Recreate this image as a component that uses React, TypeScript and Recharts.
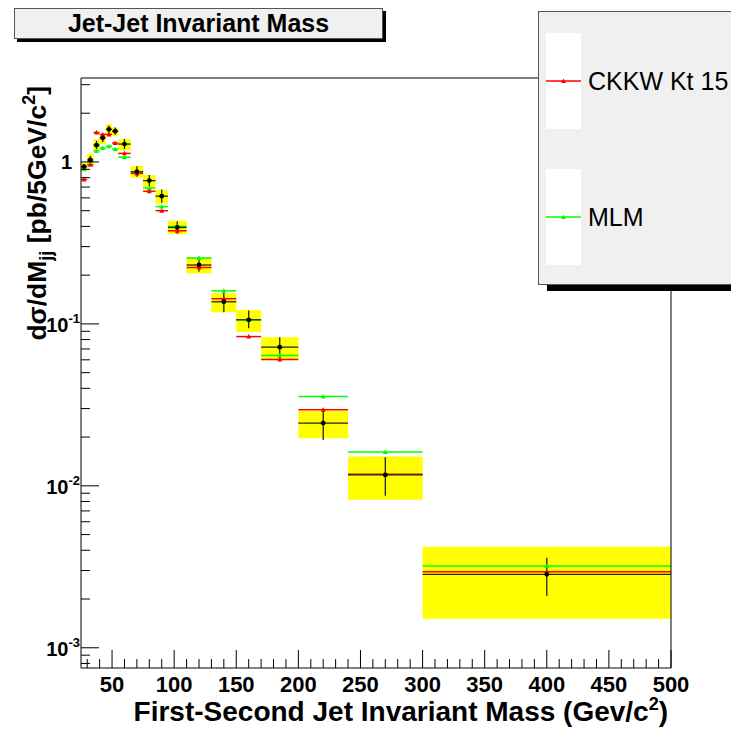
import React from 'react';
import { ComposedChart, XAxis, YAxis, Scatter, ErrorBar, ReferenceArea } from 'recharts';

// bin edges (GeV/c^2)
const binLo = [25, 30, 35, 40, 45, 50, 55, 65, 75, 85, 95, 110, 130, 150, 170, 200, 240, 300];
const binHi = [30, 35, 40, 45, 50, 55, 65, 75, 85, 95, 110, 130, 150, 170, 200, 240, 300, 500];

// measured points + stat error range
const dataVal = [0.935, 1.03, 1.27, 1.41, 1.59, 1.55, 1.29, 0.87, 0.767, 0.615, 0.394, 0.231, 0.137, 0.106, 0.0718, 0.0244, 0.0117, 0.00284];
const statLo = [0.9, 0.98, 1.2, 1.33, 1.51, 1.47, 1.2, 0.81, 0.71, 0.56, 0.36, 0.21, 0.118, 0.094, 0.0608, 0.0192, 0.0087, 0.00209];
const statHi = [0.97, 1.09, 1.35, 1.49, 1.68, 1.63, 1.39, 0.94, 0.83, 0.675, 0.43, 0.26, 0.156, 0.121, 0.0826, 0.03, 0.015, 0.0036];

// systematic band (yellow boxes)
const sysLo = [0.88, 0.94, 1.17, 1.29, 1.48, 1.45, 1.18, 0.8, 0.7, 0.553, 0.358, 0.205, 0.118, 0.089, 0.06, 0.0197, 0.0082, 0.00151];
const sysHi = [0.99, 1.12, 1.38, 1.48, 1.71, 1.63, 1.38, 0.945, 0.83, 0.672, 0.433, 0.257, 0.155, 0.122, 0.0826, 0.029, 0.0152, 0.0042];

// predictions
const ckkw = [0.78, 0.96, 1.52, 1.48, 1.48, 1.31, 1.13, 0.85, 0.66, 0.5, 0.376, 0.223, 0.143, 0.0835, 0.0603, 0.0295, 0.0118, 0.00295];
const mlm = [0.9, 1.01, 1.17, 1.22, 1.25, 1.2, 1.07, 0.87, 0.69, 0.53, 0.4, 0.255, 0.16, 0.106, 0.0638, 0.0356, 0.0162, 0.0032];

const xMajor = [50, 100, 150, 200, 250, 300, 350, 400, 450, 500];
const xMinor = [30, 40, 60, 70, 80, 90, 110, 120, 130, 140, 160, 170, 180, 190, 210, 220, 230, 240, 260, 270, 280, 290, 310, 320, 330, 340, 360, 370, 380, 390, 410, 420, 430, 440, 460, 470, 480, 490];
const yMajor = [0.001, 0.01, 0.1, 1];
const yMinor = [0.0008, 0.0009, 0.002, 0.003, 0.004, 0.005, 0.006, 0.007, 0.008, 0.009, 0.02, 0.03, 0.04, 0.05, 0.06, 0.07, 0.08, 0.09, 0.2, 0.3, 0.4, 0.5, 0.6, 0.7, 0.8, 0.9, 2, 3];

const xTicks = [...xMinor, ...xMajor].sort((a, b) => a - b);
const yTicks = [...yMinor, ...yMajor].sort((a, b) => a - b);

const X_DOMAIN = [25, 500];
const Y_DOMAIN = [0.00075, 3.3];
const FONT = '"Liberation Sans", Arial, Helvetica, sans-serif';
const X_TICK_MARGIN = 8;

const dataRows = binLo.map((lo, i) => ({
  x: (lo + binHi[i]) / 2,
  xe: (binHi[i] - lo) / 2,
  y: dataVal[i],
  ye: [dataVal[i] - statLo[i], statHi[i] - dataVal[i]],
}));
const ckkwRows = binLo.map((lo, i) => ({ x: (lo + binHi[i]) / 2, xe: (binHi[i] - lo) / 2, y: ckkw[i] }));
const mlmRows = binLo.map((lo, i) => ({ x: (lo + binHi[i]) / 2, xe: (binHi[i] - lo) / 2, y: mlm[i] }));

const triangle = (color: string) => (props: any) => {
  const { cx, cy } = props;
  return <polygon points={`${cx - 2.5},${cy + 2} ${cx + 2.5},${cy + 2} ${cx},${cy - 2.5}`} fill={color} />;
};

const dot = (props: any) => <circle cx={props.cx} cy={props.cy} r={2.4} fill="#000" />;

// ROOT-style ticks: drawn inwards from the axis line, labels only on majors
const XTick = (props: any) => {
  const { x, y, payload } = props;
  const v = payload.value;
  const base = y - X_TICK_MARGIN;
  const major = xMajor.includes(v);
  return (
    <g>
      <line x1={x} x2={x} y1={base} y2={base - (major ? 18 : 9)} stroke="#000" strokeWidth={1} />
      {major && (
        <text x={x} y={y} dy="0.71em" textAnchor="middle" fontSize={22} fontWeight="bold" fontFamily={FONT} fill="#000">{v}</text>
      )}
    </g>
  );
};

const YTick = (props: any) => {
  const { x, y, payload } = props;
  const v = payload.value;
  const major = yMajor.includes(v);
  const tick = <line x1={x} x2={x + (major ? 18 : 9)} y1={y} y2={y} stroke="#000" strokeWidth={1} />;
  if (!major) return tick;
  if (v === 1) {
    return (
      <g>
        {tick}
        <text x={72} y={y + 7} textAnchor="end" fontSize={20} fontWeight="bold" fontFamily={FONT} fill="#000">1</text>
      </g>
    );
  }
  const exp = Math.round(Math.log10(v));
  return (
    <g>
      {tick}
      <text x={80} y={y + 8} textAnchor="end" fontSize={20} fontWeight="bold" fontFamily={FONT} fill="#000">
        10<tspan dy={-9} fontSize={13}>{exp}</tspan>
      </text>
    </g>
  );
};

const LegendEntry = ({ top, color, label }: { top: number; color: string; label: string }) => (
  <>
    <div style={{ position: 'absolute', left: 7, top, width: 35, height: 96, background: '#fff' }}>
      <svg width={35} height={96} style={{ display: 'block' }}>
        <line x1={0} y1={48} x2={35} y2={48} stroke={color} strokeWidth={1.5} />
        <polygon points="15,50 20,50 17.5,45.5" fill={color} />
      </svg>
    </div>
    <div style={{ position: 'absolute', left: 49, top: top + 48 - 15, fontSize: 25, lineHeight: '30px', fontFamily: FONT, whiteSpace: 'nowrap', color: '#000' }}>
      {label}
    </div>
  </>
);

export default function App() {
  return (
    <div style={{ position: 'absolute', left: 0, top: 0, width: 731, height: 733, background: '#fff', overflow: 'hidden' }}>
      <ComposedChart width={731} height={733} margin={{ top: 77, right: 59, bottom: 0, left: 0 }}>
        <XAxis dataKey="x" type="number" domain={X_DOMAIN} allowDataOverflow ticks={xTicks} interval={0} height={65}
          tickLine={false} tickSize={0} tickMargin={X_TICK_MARGIN} axisLine={{ stroke: '#000' }} tick={<XTick />} />
        <XAxis xAxisId="top" orientation="top" type="number" domain={X_DOMAIN} allowDataOverflow height={1}
          tick={false} tickLine={false} axisLine={{ stroke: '#000' }} />

        <YAxis dataKey="y" type="number" scale="log" domain={Y_DOMAIN} allowDataOverflow ticks={yTicks} interval={0} width={81}
          tickLine={false} tickSize={0} tickMargin={0} axisLine={{ stroke: '#000' }} tick={<YTick />} />
        <YAxis yAxisId="right" orientation="right" type="number" scale="log" domain={Y_DOMAIN} allowDataOverflow width={1}
          tick={false} tickLine={false} axisLine={{ stroke: '#000' }} />

        {binLo.map((lo, i) => (
          <ReferenceArea key={`sys-${i}`} x1={lo} x2={binHi[i]} y1={sysLo[i]} y2={sysHi[i]}
            fill="#ffff00" fillOpacity={1} stroke="none" />
        ))}

        <Scatter data={mlmRows} fill="#00ff00" shape={triangle('#00ff00')} isAnimationActive={false}>
          <ErrorBar dataKey="xe" direction="x" width={0} stroke="#00ff00" strokeWidth={1.5} isAnimationActive={false} />
        </Scatter>
        <Scatter data={ckkwRows} fill="#ff0000" shape={triangle('#ff0000')} isAnimationActive={false}>
          <ErrorBar dataKey="xe" direction="x" width={0} stroke="#ff0000" strokeWidth={1.5} isAnimationActive={false} />
        </Scatter>
        <Scatter data={dataRows} fill="#000" shape={dot} isAnimationActive={false}>
          <ErrorBar dataKey="xe" direction="x" width={0} stroke="#222" strokeWidth={1.3} isAnimationActive={false} />
          <ErrorBar dataKey="ye" direction="y" width={0} stroke="#222" strokeWidth={1.3} isAnimationActive={false} />
        </Scatter>
      </ComposedChart>

      <svg width={731} height={733} style={{ position: 'absolute', left: 0, top: 0, pointerEvents: 'none' }}>
        <text x={668} y={721} textAnchor="end" fontSize={28} fontWeight="bold" fontFamily={FONT} fill="#000">
          First-Second Jet Invariant Mass (Gev/c<tspan dy={-11} fontSize={18}>2</tspan><tspan dy={11}>)</tspan>
        </text>
        <text transform="rotate(-90)" x={-86} y={46} textAnchor="end" fontSize={26.5} fontWeight="bold" fontFamily={FONT} fill="#000">
          dσ/dM<tspan dy={6} fontSize={18}>jj</tspan><tspan dy={-6}> [pb/5GeV/c</tspan><tspan dy={-11} fontSize={18}>2</tspan><tspan dy={11}>]</tspan>
        </text>
      </svg>

      <div style={{ position: 'absolute', left: 14, top: 8, width: 367, height: 29, background: '#f0f0f0', border: '1px solid #555',
        boxShadow: '3px 3px 0 #000', fontFamily: FONT, fontWeight: 'bold', fontSize: 25, lineHeight: '29px', textAlign: 'center', color: '#000' }}>
        Jet-Jet Invariant Mass
      </div>

      <div style={{ position: 'absolute', left: 538, top: 11, width: 210, height: 272, background: '#f0f0f0', border: '1px solid #555',
        boxShadow: '9px 6px 0 #000' }}>
        <LegendEntry top={21} color="#ff0000" label="CKKW Kt 15" />
        <LegendEntry top={157} color="#00ff00" label="MLM" />
      </div>
    </div>
  );
}
